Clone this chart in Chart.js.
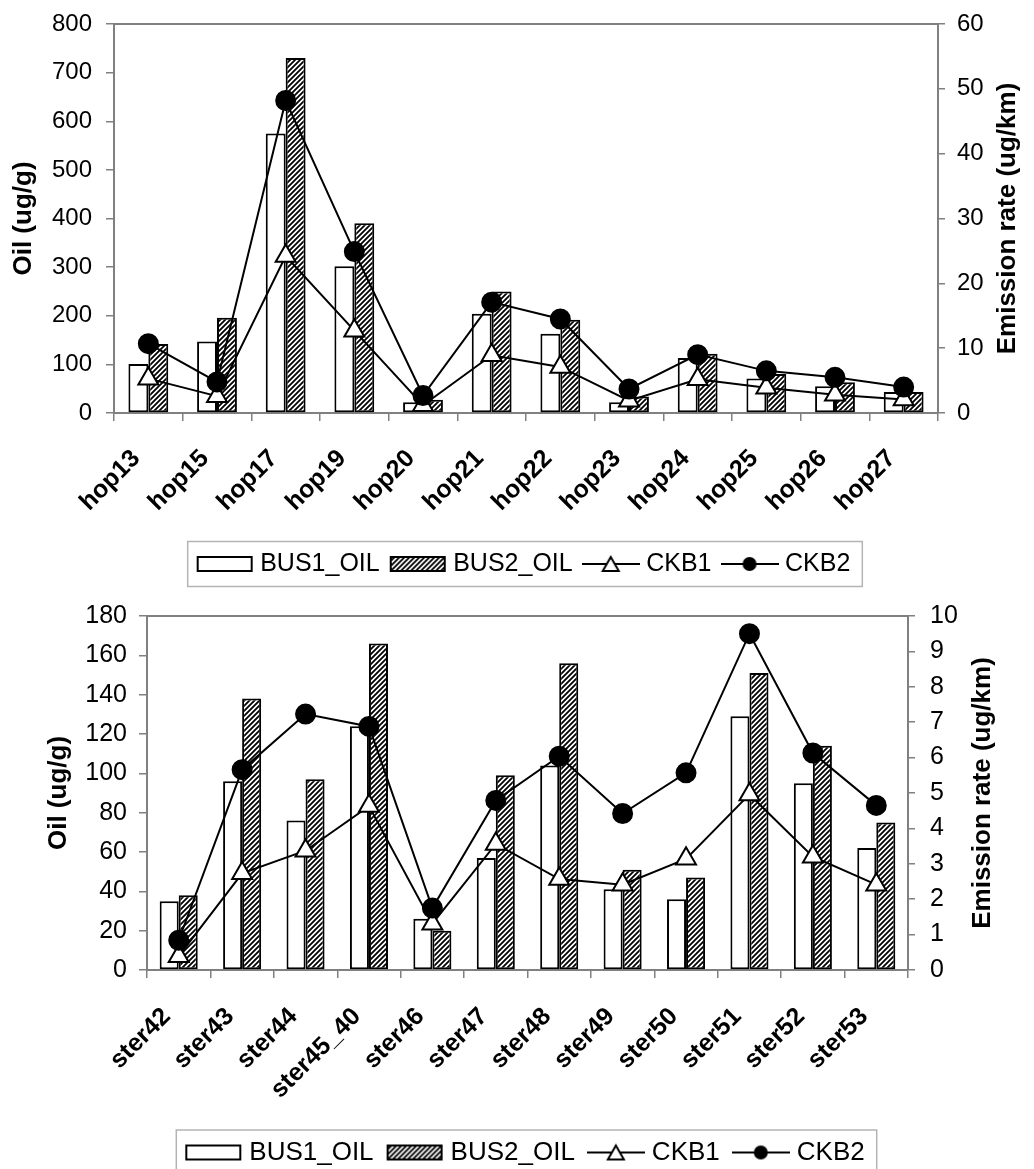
<!DOCTYPE html>
<html>
<head>
<meta charset="utf-8">
<script src="https://cdn.jsdelivr.net/npm/chart.js@4.4.1/dist/chart.umd.min.js"></script>
<style>
  html, body { margin: 0; padding: 0; background: #fff; width: 1034px; height: 1169px; overflow: hidden; }
  .box { position: absolute; left: 0; width: 1034px; height: 600px; }
</style>
</head>
<body>
<div class="box" style="top:0"><canvas id="hopChart" width="1034" height="600"></canvas></div>
<div class="box" style="top:600px"><canvas id="sterChart" width="1034" height="600"></canvas></div>
<script>
// hopanes (top chart)
const hopLabels = ['hop13', 'hop15', 'hop17', 'hop19', 'hop20', 'hop21', 'hop22', 'hop23', 'hop24', 'hop25', 'hop26', 'hop27'];
const hopBus1 = [101, 147, 575, 302, 22, 204, 163, 22, 113, 71, 55, 43];
const hopBus2 = [142, 196, 730, 390, 27, 250, 192, 34, 122, 80, 63, 43];
const hopCkb1 = [5.3, 2.6, 24.2, 12.7, 1.2, 8.9, 7.1, 1.9, 5.2, 3.9, 2.8, 2.1];
const hopCkb2 = [10.7, 4.8, 48.2, 24.9, 2.7, 17.1, 14.5, 3.7, 9.0, 6.5, 5.5, 4.0];

// steranes (bottom chart)
const sterLabels = ['ster42', 'ster43', 'ster44', 'ster45_40', 'ster46', 'ster47', 'ster48', 'ster49', 'ster50', 'ster51', 'ster52', 'ster53'];
const sterBus1 = [35, 96, 76, 124, 26, 57, 104, 41, 36, 129, 95, 62];
const sterBus2 = [38, 138, 97, 166, 20, 99, 156, 51, 47, 151, 114, 75];
const sterCkb1 = [0.39, 2.73, 3.37, 4.63, 1.31, 3.56, 2.57, 2.41, 3.14, 4.96, 3.2, 2.41];
const sterCkb2 = [0.84, 5.66, 7.23, 6.88, 1.75, 4.79, 6.04, 4.42, 5.57, 9.5, 6.13, 4.65];

const seriesNames = ['BUS1_OIL', 'BUS2_OIL', 'CKB1', 'CKB2'];
const leftTitle = 'Oil (ug/g)';
const rightTitle = 'Emission rate (ug/km)';

Chart.defaults.font.family = '"Liberation Sans", Arial, sans-serif';
Chart.defaults.color = '#000';

const GRAY = '#808080';

// diagonal hatch used for BUS2 bars
function makeHatch() {
    const c = document.createElement('canvas');
    c.width = 5; c.height = 5;
    const g = c.getContext('2d');
    g.fillStyle = '#fff';
    g.fillRect(0, 0, 5, 5);
    g.strokeStyle = '#000';
    g.lineWidth = 1.8;
    g.beginPath();
    g.moveTo(-1, 6); g.lineTo(6, -1);
    g.moveTo(-1, 1); g.lineTo(1, -1);
    g.moveTo(4, 6); g.lineTo(6, 4);
    g.stroke();
    return g.createPattern(c, 'repeat');
}

// small pictures for the legend keys
function legendIcon(kind, hatch) {
    const c = document.createElement('canvas');
    c.width = 58; c.height = 22;
    const g = c.getContext('2d');
    g.strokeStyle = '#000';
    g.lineWidth = 2;
    if (kind === 'bar' || kind === 'hatch') {
        g.fillStyle = kind === 'bar' ? '#fff' : hatch;
        g.fillRect(2, 4, 54, 14);
        g.strokeRect(2, 4, 54, 14);
    } else {
        g.beginPath();
        g.moveTo(0, 11); g.lineTo(58, 11);
        g.stroke();
        if (kind === 'triangle') {
            g.fillStyle = '#fff';
            g.beginPath();
            g.moveTo(29, 4); g.lineTo(37, 18); g.lineTo(21, 18); g.closePath();
            g.fill(); g.stroke();
        } else {
            g.fillStyle = '#000';
            g.beginPath();
            g.arc(29, 11, 7, 0, Math.PI * 2);
            g.fill();
        }
    }
    return c;
}

// grey frame line on top of the plot area
const plotFrame = {
    id: 'plotFrame',
    afterDraw(chart) {
        const a = chart.chartArea, ctx = chart.ctx;
        ctx.save();
        ctx.strokeStyle = GRAY;
        ctx.lineWidth = 2;
        ctx.beginPath();
        ctx.moveTo(a.left, a.top);
        ctx.lineTo(a.right, a.top);
        ctx.stroke();
        ctx.restore();
    }
};

// right axis title, read upwards like the left one
const rightAxisTitle = {
    id: 'rightTitle',
    afterDraw(chart, args, opts) {
        const s = chart.scales.y2, a = chart.chartArea, ctx = chart.ctx;
        ctx.save();
        ctx.translate(a.right + opts.offset, (a.top + a.bottom) / 2);
        ctx.rotate(-Math.PI / 2);
        ctx.font = 'bold 26px "Liberation Sans", Arial, sans-serif';
        ctx.fillStyle = '#000';
        ctx.textAlign = 'center';
        ctx.textBaseline = 'middle';
        ctx.fillText(s.options.title.text, 0, 0);
        ctx.restore();
    }
};

// border round the legend
const legendFrame = {
    id: 'legendFrame',
    afterDraw(chart) {
        const boxes = chart.legend.legendHitBoxes;
        if (!boxes || !boxes.length) return;
        const first = boxes[0], last = boxes[boxes.length - 1];
        const cy = first.top + first.height / 2;
        const ctx = chart.ctx;
        ctx.save();
        ctx.strokeStyle = '#b4b4b4';
        ctx.lineWidth = 1.5;
        ctx.strokeRect(first.left - 14, cy - 22.5, last.left + last.width - first.left + 26, 45);
        ctx.restore();
    }
};

// no extra room for the tick labels: the plot area is fixed by the layout
function noPad(s) {
    s.paddingTop = 0; s.paddingBottom = 0; s.paddingLeft = 0; s.paddingRight = 0;
}

function buildChart(id, p) {
    const hatch = makeHatch();
    const icons = [legendIcon('bar'), legendIcon('hatch', hatch), legendIcon('triangle'), legendIcon('circle')];
    return new Chart(document.getElementById(id), {
        type: 'bar',
        data: {
            labels: p.labels,
            datasets: [
                { label: seriesNames[0], data: p.bus1, yAxisID: 'y', backgroundColor: '#fff', borderColor: '#000', borderWidth: 2, borderSkipped: false, order: 2 },
                { label: seriesNames[1], data: p.bus2, yAxisID: 'y', backgroundColor: hatch, borderColor: '#000', borderWidth: 2, borderSkipped: false, order: 2 },
                { type: 'line', label: seriesNames[2], data: p.ckb1, yAxisID: 'y2', borderColor: '#000', borderWidth: 2, tension: 0,
                  pointStyle: 'triangle', pointRadius: 11.5, pointBackgroundColor: '#fff', pointBorderColor: '#000', pointBorderWidth: 2, order: 1 },
                { type: 'line', label: seriesNames[3], data: p.ckb2, yAxisID: 'y2', borderColor: '#000', borderWidth: 2, tension: 0,
                  pointStyle: 'circle', pointRadius: 9.5, pointBackgroundColor: '#000', pointBorderColor: '#000', pointBorderWidth: 2, order: 0 }
            ]
        },
        options: {
            responsive: false,
            animation: false,
            layout: { padding: { top: p.top, bottom: p.padBottom, left: 0, right: 0 } },
            datasets: { bar: { categoryPercentage: p.catPct, barPercentage: 1 } },
            scales: {
                x: {
                    grid: { drawOnChartArea: false, offset: true, color: GRAY, lineWidth: 1.5, tickLength: 8 },
                    border: { color: GRAY, width: 2 },
                    ticks: { font: { size: 25, weight: 'bold' }, minRotation: 45, maxRotation: 45, autoSkip: false, padding: p.xPad, labelOffset: -12 },
                    afterFit: s => { s.height = p.xHeight; noPad(s); }
                },
                y: {
                    position: 'left',
                    min: 0, max: p.yMax,
                    ticks: { stepSize: p.yStep, font: { size: p.tickSize }, padding: p.yPad },
                    grid: { drawOnChartArea: false, color: GRAY, lineWidth: 1.5, tickLength: 8 },
                    border: { color: GRAY, width: 2 },
                    title: { display: true, text: leftTitle, font: { size: 26, weight: 'bold' }, padding: { top: p.titlePad, bottom: 0 } },
                    afterFit: s => { s.width = p.left; noPad(s); }
                },
                y2: {
                    position: 'right',
                    min: 0, max: p.y2Max,
                    ticks: { stepSize: p.y2Step, font: { size: p.tickSize }, padding: p.y2Pad },
                    grid: { drawOnChartArea: false, color: GRAY, lineWidth: 1.5, tickLength: 7 },
                    border: { color: GRAY, width: 2 },
                    title: { display: false, text: rightTitle },
                    afterFit: s => { s.width = 1034 - p.right; noPad(s); }
                }
            },
            plugins: {
                tooltip: { enabled: false },
                rightTitle: { offset: p.rTitle },
                legend: {
                    position: 'bottom',
                    fullSize: false,
                    labels: {
                        usePointStyle: true,
                        pointStyleWidth: 46,
                        padding: p.legendPad,
                        font: { size: p.legendSize },
                        generateLabels: chart => chart.data.datasets.map((ds, i) => ({
                            text: ds.label, pointStyle: icons[i], datasetIndex: i, hidden: false,
                            lineWidth: 0, fillStyle: 'transparent', strokeStyle: 'transparent', fontColor: '#000'
                        }))
                    }
                }
            }
        },
        plugins: [plotFrame, rightAxisTitle, legendFrame]
    });
}

buildChart('hopChart', {
    labels: hopLabels, bus1: hopBus1, bus2: hopBus2, ckb1: hopCkb1, ckb2: hopCkb2,
    top: 24, padBottom: 13.5, left: 114, right: 938, xHeight: 123.5, xPad: 23,
    yMax: 800, yStep: 100, y2Max: 60, y2Step: 10, tickSize: 24, yPad: 14, y2Pad: 12,
    titlePad: 8, rTitle: 70, catPct: 0.58, legendSize: 25, legendPad: 15
});

buildChart('sterChart', {
    labels: sterLabels, bus1: sterBus1, bus2: sterBus2, ckb1: sterCkb1, ckb2: sterCkb2,
    top: 16, padBottom: 24.5, left: 147, right: 908, xHeight: 151.5, xPad: 24,
    yMax: 180, yStep: 20, y2Max: 10, y2Step: 1, tickSize: 25, yPad: 12, y2Pad: 15,
    titlePad: 43, rTitle: 75, catPct: 0.6, legendSize: 26, legendPad: 18
});
</script>
</body>
</html>
